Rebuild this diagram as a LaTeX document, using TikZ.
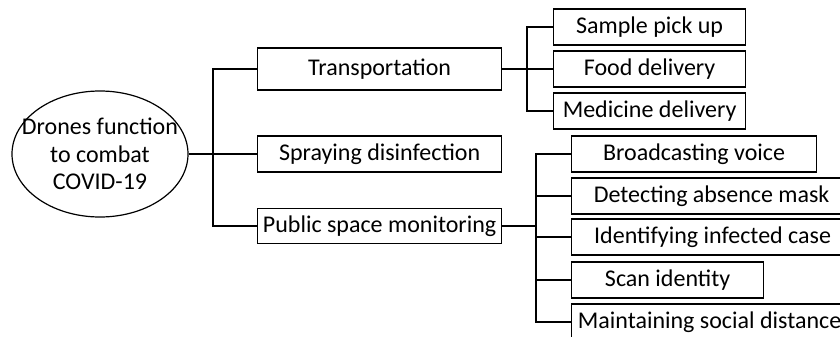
\documentclass[tikz,border=0pt]{standalone}
\usepackage{fontspec}
\setmainfont{Carlito}
\usetikzlibrary{shapes.geometric,positioning}

\begin{document}
\begin{tikzpicture}[x=0.5pt,y=-0.5pt,
                    conn/.style={line width=0.6pt, black},
                    box/.style={draw, line width=0.6pt, inner sep=0pt, anchor=west,
                                minimum height=18pt, font=\fontsize{12}{14}\selectfont},
                    bigbox/.style={box, minimum width=122pt},
                    leaf/.style={box, minimum height=18pt},
                   ]

\useasboundingbox (0,0) rectangle (840,337);
\clip (0,0) rectangle (840,337);

% root
\node[draw, ellipse, line width=0.6pt, minimum width=88pt, minimum height=63pt, inner sep=0pt] (root) at (100,154) {};
\node[align=center, font=\fontsize{12}{13.75}\selectfont] (roottext) at (root) {Drones function\\to combat\\COVID-19};

% second level
\node[bigbox, minimum height=21pt] (trans) at (257,69) {Transportation};
\node[bigbox] (spray) at (257,154) {Spraying disinfection};
\node[bigbox, minimum height=17.5pt] (monitor) at (257,226) {Public space monitoring};

% transportation leaves
\node[leaf, minimum width=96pt] (pickup) at (553,27) {Sample pick up};
\node[leaf, minimum width=96pt] (food) at (553,69) {Food delivery};
\node[leaf, minimum width=96pt] (medicine) at (553,111) {Medicine delivery};

% monitoring leaves
\node[leaf, minimum width=122.5pt] (voice) at (571,154) {Broadcasting voice};
\node[leaf, minimum width=140pt] (mask) at (571,196) {Detecting absence mask};
\node[leaf, minimum width=141pt] (infected) at (571,237) {Identifying infected case};
\node[leaf, minimum width=96pt] (scan) at (571,280) {Scan identity};
\node[leaf, minimum width=138pt] (distance) at (571,322) {Maintaining social distance};

% connectors
\coordinate (j1) at (213,154);
\draw[conn] (root.east) -- (spray.west);
\draw[conn] (trans.west) -- (trans.west -| j1) -- (monitor.west -| j1) -- (monitor.west);

\coordinate (j2) at (527,69);
\draw[conn] (trans.east) -- (j2);
\draw[conn] (pickup.west) -| (j2) |- (medicine.west);
\draw[conn] (j2) -- (food.west);

\coordinate (j3) at (536,226);
\draw[conn] (monitor.east) -- (j3);
\draw[conn] (voice.west) -| (j3) |- (distance.west);
\foreach \n in {mask,infected,scan}
  \draw[conn] (\n.west) -- (\n.west -| j3);

\end{tikzpicture}
\end{document}
